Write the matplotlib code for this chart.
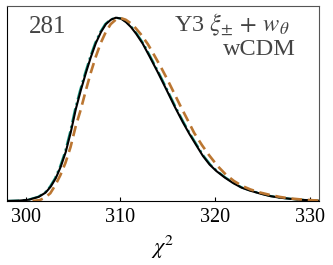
import numpy as np
import matplotlib.pyplot as plt

plt.rcParams['font.family'] = 'Liberation Serif'
plt.rcParams['mathtext.fontset'] = 'stix'

# chi^2 values and peak-normalised densities
chi2_black = [297.88, 299.26, 300.32, 301.38, 302.09, 302.62, 303.15, 303.68, 304.21, 304.75,
              305.28, 305.81, 306.34, 306.87, 307.40, 307.93, 308.46, 308.99, 309.52, 310.05,
              310.58, 311.11, 311.65, 312.35, 313.06, 313.94, 314.83, 315.71, 316.59, 317.30,
              318.01, 318.72, 319.43, 320.14, 321.02, 321.90, 322.79, 323.67, 324.73, 325.80,
              326.86, 327.92, 328.98, 330.04, 331.00]
dens_black = [0.000, 0.002, 0.007, 0.023, 0.046, 0.078, 0.123, 0.186, 0.266, 0.375,
              0.500, 0.603, 0.696, 0.783, 0.859, 0.918, 0.962, 0.986, 0.997, 0.992,
              0.973, 0.946, 0.910, 0.856, 0.788, 0.701, 0.609, 0.516, 0.429, 0.364,
              0.304, 0.245, 0.198, 0.163, 0.128, 0.098, 0.073, 0.057, 0.041, 0.027,
              0.018, 0.012, 0.007, 0.004, 0.001]

chi2_teal = [297.80, 299.18, 300.24, 301.30, 302.01, 302.54, 303.07, 303.60, 304.13, 304.67,
             305.20, 305.73, 306.26, 306.79, 307.32, 307.85, 308.38, 308.91, 309.50, 310.10,
             310.66, 311.19, 311.73, 312.43, 313.14, 314.02, 314.91, 315.79, 316.67, 317.38,
             318.09, 318.80, 319.51, 320.22, 321.10, 321.98, 322.87, 323.75, 324.81, 325.88,
             326.94, 328.00, 329.06, 330.12, 331.00]
dens_teal = dens_black

chi2_orange = [300.70, 301.48, 302.03, 302.58, 303.12, 303.65, 304.18, 304.72, 305.26, 305.79,
               306.32, 306.85, 307.38, 307.91, 308.44, 308.97, 309.50, 310.02, 310.55, 311.08,
               311.61, 312.14, 312.90, 313.57, 314.28, 314.99, 315.69, 316.40, 317.11, 317.80,
               318.62, 319.36, 320.28, 321.14, 322.00, 322.87, 323.73, 324.77, 325.82, 326.87,
               327.92, 328.98, 330.04, 331.00]
dens_orange = [0.000, 0.005, 0.019, 0.042, 0.087, 0.141, 0.207, 0.293, 0.405, 0.495,
               0.598, 0.696, 0.783, 0.859, 0.918, 0.962, 0.986, 0.995, 0.986, 0.967,
               0.940, 0.908, 0.853, 0.793, 0.728, 0.658, 0.585, 0.511, 0.440, 0.370,
               0.304, 0.250, 0.190, 0.144, 0.109, 0.082, 0.063, 0.046, 0.033, 0.022,
               0.014, 0.009, 0.005, 0.002]

xticks = [300, 310, 320, 330]

fig = plt.figure(figsize=(3.33, 2.65), dpi=100)
ax = fig.add_axes([0.021, 0.2415, 0.937, 0.7355])

ax.plot(chi2_teal, dens_teal, color='#1b9985', lw=1.6, ls='-.')
ax.plot(chi2_black, dens_black, color='black', lw=1.5)
ax.plot(chi2_orange, dens_orange, color='#bb7631', lw=1.9, ls=(0, (4, 2.2)))

ax.set_xlim(298, 331)
ax.set_ylim(0, 1.06)
ax.set_yticks([])
ax.set_xticks(xticks)
ax.tick_params(axis='x', direction='in', length=3, labelsize=14.5, pad=5)
ax.set_xlabel(r'$\chi^2$', fontsize=16, labelpad=5)

for s in ['top', 'right']:
    ax.spines[s].set_color('#555555')
    ax.spines[s].set_linewidth(0.8)

ax.text(0.07, 0.95, '281', transform=ax.transAxes, fontsize=18,
        color='#444444', ha='left', va='top')
ax.text(0.905, 0.97, r'Y3 $\xi_{\pm}\,+\,w_{\theta}$', transform=ax.transAxes,
        fontsize=17.5, color='#444444', ha='right', va='top')
ax.text(0.926, 0.83, 'wCDM', transform=ax.transAxes, fontsize=17.5,
        color='#444444', ha='right', va='top')

fig.savefig('out.png', dpi=100)
